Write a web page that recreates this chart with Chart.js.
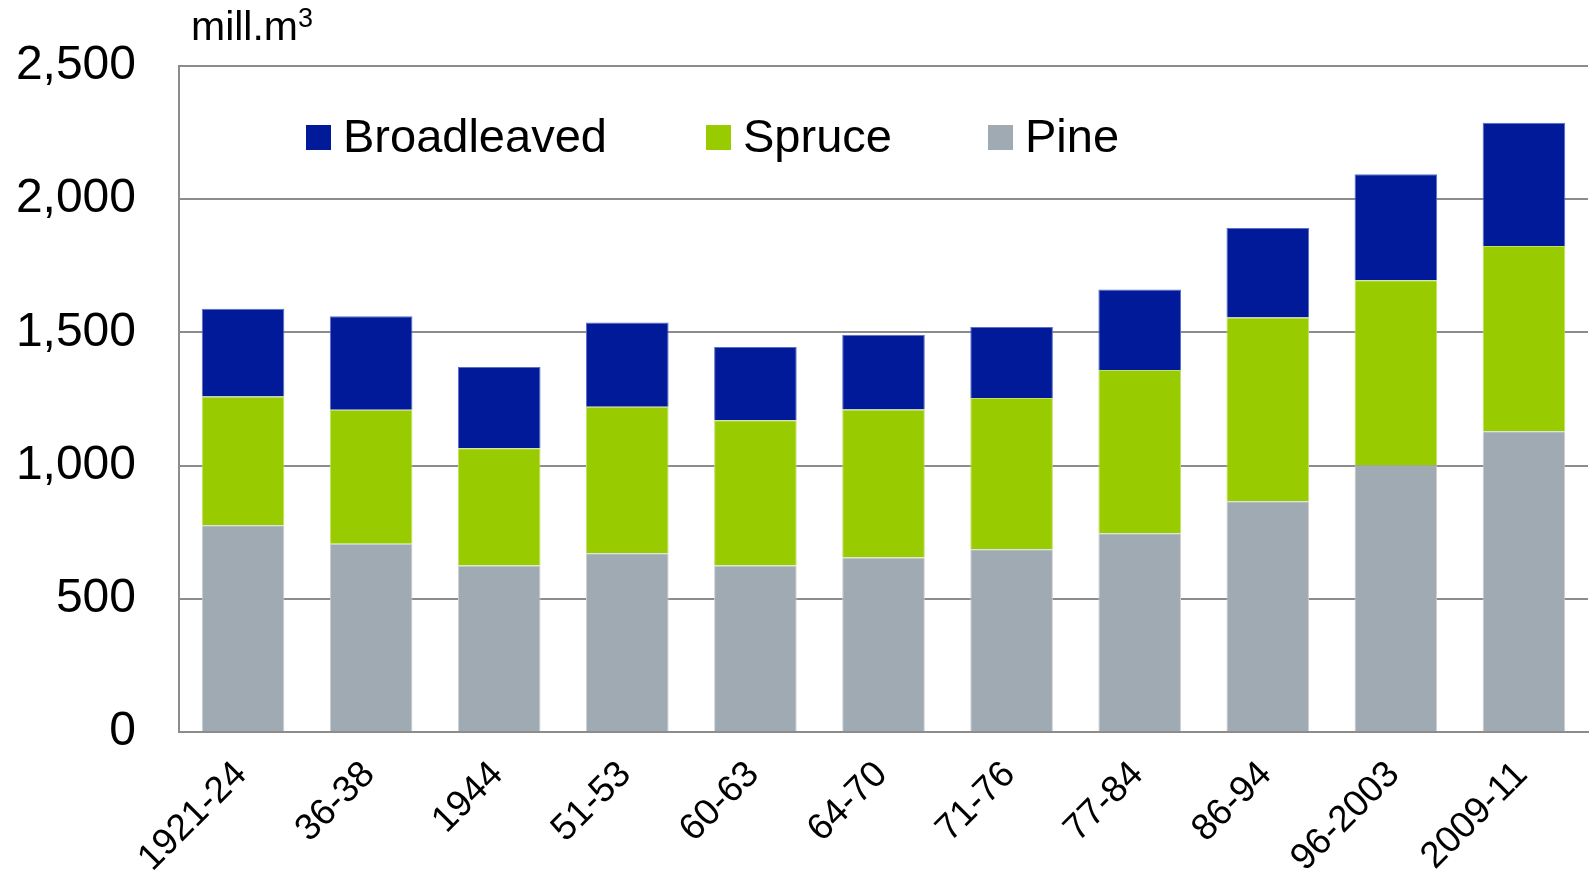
<!DOCTYPE html>
<html>
<head>
<meta charset="utf-8">
<script src="https://cdn.jsdelivr.net/npm/chart.js@4"></script>
<style>
  body { margin: 0; background: #fff; }
  #wrap { position: relative; width: 1593px; height: 881px; font-family: "Liberation Sans", Arial, sans-serif; }
  #unit { position: absolute; left: 191px; top: 3px; font-size: 41px; color: #000; }
  #unit sup { font-size: 27px; vertical-align: 13px; line-height: 0; }
  #legend { position: absolute; left: 0; top: 0; }
  .item { position: absolute; top: 108px; font-size: 47px; line-height: 56px; color: #000; white-space: nowrap; }
  .box { position: absolute; top: 17px; width: 25px; height: 25px; }
  .item span.t { position: absolute; left: 37px; top: 0; }
</style>
</head>
<body>
<div id="wrap">
  <canvas id="barChart"></canvas>
  <div id="unit">mill.m<sup>3</sup></div>
  <div id="legend"></div>
</div>
<script>
// stacked volume by species, mill. m3
var periods = ['1921-24', '36-38', '1944', '51-53', '60-63', '64-70', '71-76', '77-84', '86-94', '96-2003', '2009-11'];
var pine = [776, 707, 625, 671, 625, 655, 686, 746, 866, 1000, 1129];
var spruce = [483, 503, 440, 550, 545, 556, 568, 613, 690, 696, 695];
var broadleaved = [330, 351, 305, 316, 275, 280, 266, 302, 336, 398, 463];
var yTicks = [0, 500, 1000, 1500, 2000, 2500];

var colors = { pine: '#9faab2', spruce: '#99cc00', broad: '#001a9a' };

var ctx = document.getElementById('barChart').getContext('2d');
var chart = new Chart(ctx, {
    type: 'bar',
    data: {
        labels: periods,
        datasets: [
            { label: 'Pine', data: pine, backgroundColor: colors.pine, borderColor: '#c9d0d6', borderWidth: 1 },
            { label: 'Spruce', data: spruce, backgroundColor: colors.spruce, borderColor: '#c2e066', borderWidth: 1 },
            { label: 'Broadleaved', data: broadleaved, backgroundColor: colors.broad, borderColor: '#5a6fc8', borderWidth: 1 }
        ]
    },
    options: {
        responsive: true,
        maintainAspectRatio: false,
        animation: false,
        layout: { padding: { top: 66, right: 5, left: 0, bottom: 0 } },
        datasets: { bar: { barPercentage: 0.645, categoryPercentage: 1 } },
        plugins: {
            legend: { display: false },
            tooltip: { enabled: false }
        },
        scales: {
            x: {
                stacked: true,
                grid: { display: false, drawTicks: false },
                border: { display: true, color: '#8c8c8c', width: 2 },
                ticks: {
                    color: '#000',
                    font: { family: '"Liberation Sans", Arial, sans-serif', size: 37 },
                    maxRotation: 45,
                    minRotation: 45,
                    padding: 21,
                    labelOffset: -2,
                    autoSkip: false
                },
                afterFit: function (scale) { scale.height = 149; }
            },
            y: {
                stacked: true,
                min: yTicks[0],
                max: yTicks[yTicks.length - 1],
                grid: { color: '#8c8c8c', lineWidth: 2, drawTicks: false },
                border: { display: true, color: '#8c8c8c', width: 2 },
                afterBuildTicks: function (scale) {
                    scale.ticks = yTicks.map(function (v) { return { value: v }; });
                },
                ticks: {
                    color: '#000',
                    font: { family: '"Liberation Sans", Arial, sans-serif', size: 48 },
                    padding: 43,
                    callback: function (v) { return v.toLocaleString('en-US'); }
                },
                afterFit: function (scale) {
                    scale.width = 179;
                    scale.paddingTop = 0;
                    scale.paddingBottom = 0;
                }
            }
        }
    }
});

// legend drawn inside the plot, order as in the original
var legendItems = [
    { label: 'Broadleaved', color: colors.broad, left: 306 },
    { label: 'Spruce', color: colors.spruce, left: 706 },
    { label: 'Pine', color: colors.pine, left: 988 }
];
var legend = document.getElementById('legend');
legendItems.forEach(function (it) {
    var d = document.createElement('div');
    d.className = 'item';
    d.style.left = it.left + 'px';
    d.innerHTML = '<div class="box" style="background:' + it.color + '"></div><span class="t">' + it.label + '</span>';
    legend.appendChild(d);
});
</script>
</body>
</html>
